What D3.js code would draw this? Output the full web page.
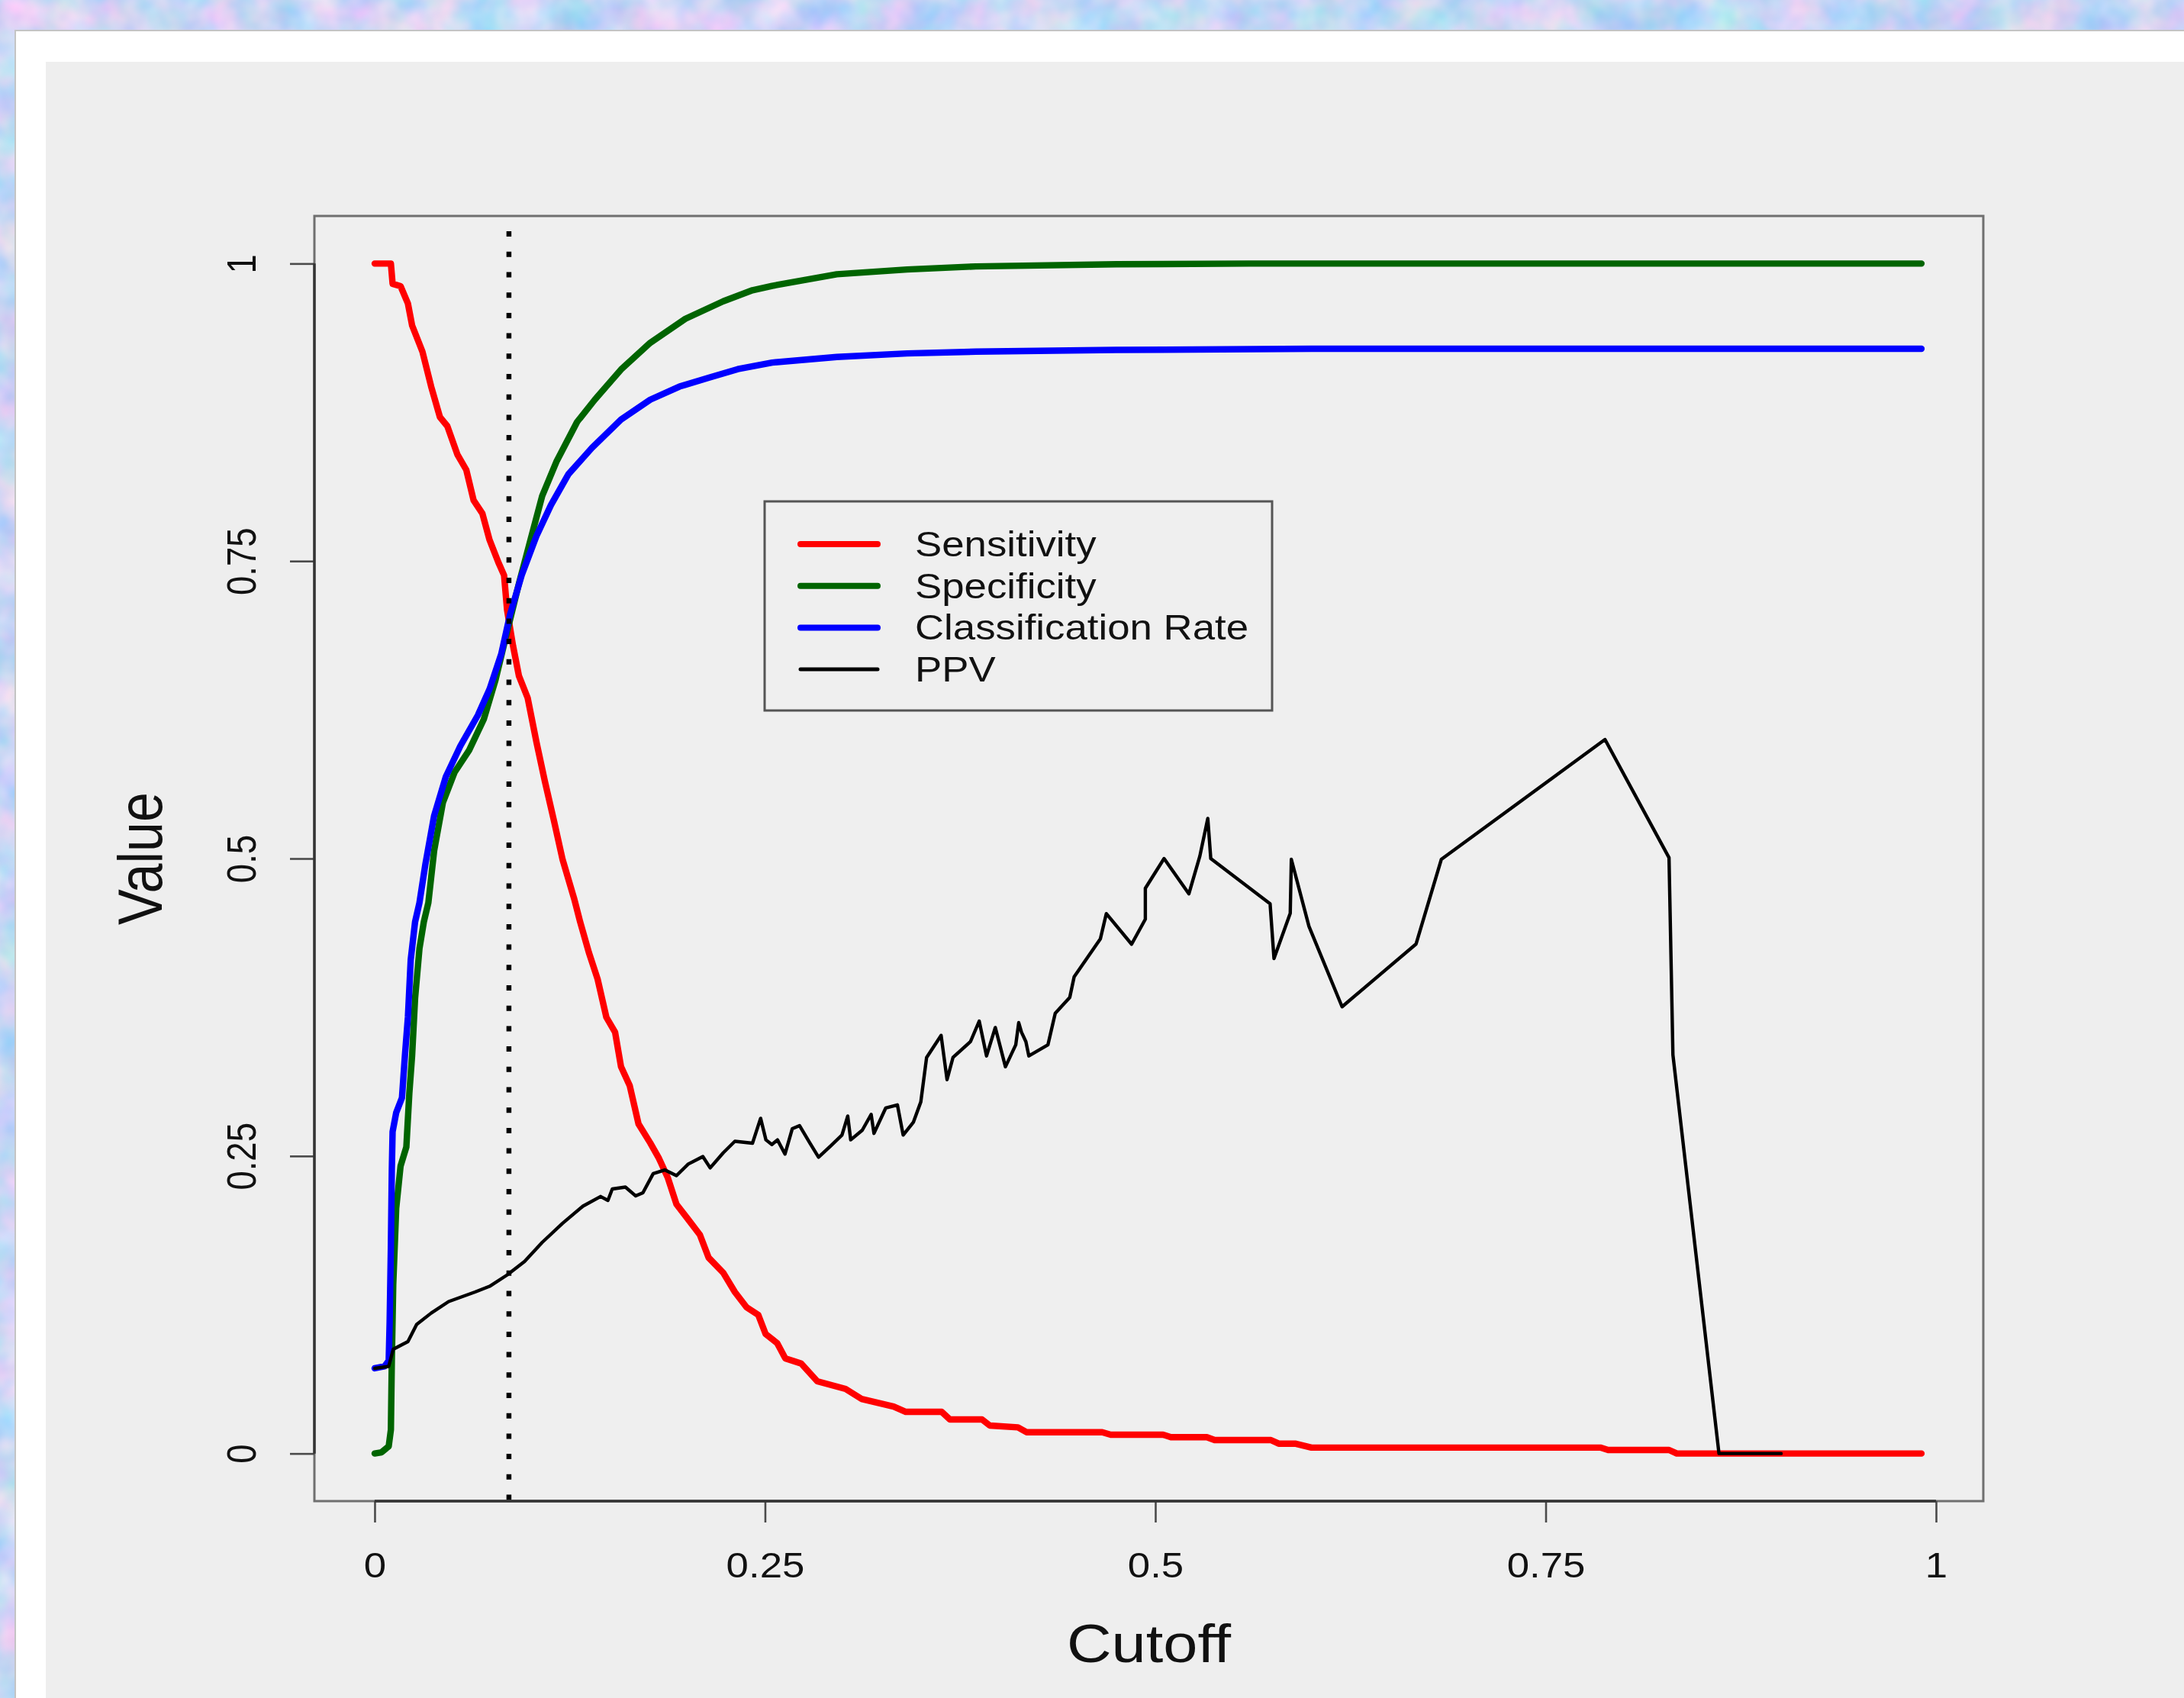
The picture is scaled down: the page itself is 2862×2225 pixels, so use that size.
<!DOCTYPE html>
<html>
<head>
<meta charset="utf-8">
<title>Cutoff vs Value</title>
<script src="https://cdnjs.cloudflare.com/ajax/libs/d3/7.8.5/d3.min.js"></script>
<style>
  html, body { margin: 0; padding: 0; background: #c9d6f3; }
  svg { display: block; }
</style>
</head>
<body>
<script>
// Values, as [cutoff, value]
const sensitivity = [
  [0, 1], [0.0104, 1], [0.0115, 0.983], [0.0166, 0.981], [0.0213, 0.9665], [0.024, 0.948],
  [0.0306, 0.926], [0.0362, 0.8966], [0.0418, 0.871], [0.0465, 0.8635], [0.053, 0.8395],
  [0.0587, 0.8266], [0.0634, 0.801], [0.069, 0.79], [0.0736, 0.7677], [0.0792, 0.749],
  [0.0829, 0.738], [0.0848, 0.709], [0.0886, 0.679], [0.0924, 0.6535], [0.098, 0.635],
  [0.1036, 0.598], [0.109, 0.565], [0.1148, 0.532], [0.1204, 0.499], [0.1279, 0.4657],
  [0.1316, 0.4468], [0.1372, 0.421], [0.1428, 0.3987], [0.1484, 0.3666], [0.154, 0.354],
  [0.1578, 0.325], [0.1634, 0.309], [0.169, 0.277], [0.1765, 0.261], [0.1821, 0.248],
  [0.1877, 0.232], [0.1933, 0.2095], [0.2008, 0.1967], [0.2083, 0.1838], [0.2139, 0.1646],
  [0.2233, 0.1518], [0.2307, 0.1357], [0.2382, 0.1229], [0.2457, 0.1165], [0.2504, 0.1005],
  [0.2578, 0.0928], [0.263, 0.08], [0.2732, 0.0756], [0.2835, 0.0607], [0.3016, 0.0543],
  [0.3118, 0.0459], [0.3324, 0.0395], [0.3402, 0.035], [0.3632, 0.035], [0.3685, 0.0286],
  [0.389, 0.0286], [0.394, 0.0235], [0.412, 0.022], [0.4175, 0.0179], [0.466, 0.0179],
  [0.4714, 0.0158], [0.505, 0.0158], [0.51, 0.0137], [0.533, 0.0137], [0.538, 0.0113],
  [0.574, 0.0113], [0.579, 0.0083], [0.5895, 0.0083], [0.6, 0.005], [0.785, 0.005],
  [0.79, 0.003], [0.829, 0.003], [0.834, 0], [0.9907, 0]
];

const specificity = [
  [0, 0], [0.0044, 0.001], [0.009, 0.006], [0.0104, 0.02], [0.011, 0.078], [0.0119, 0.142],
  [0.0138, 0.206], [0.0166, 0.2416], [0.0203, 0.2576], [0.0222, 0.3025], [0.024, 0.3346],
  [0.0259, 0.3827], [0.0287, 0.4244], [0.0315, 0.4468], [0.0344, 0.4629], [0.0381, 0.5065],
  [0.0437, 0.547], [0.0512, 0.5725], [0.0605, 0.591], [0.0699, 0.617], [0.0774, 0.65],
  [0.0848, 0.6905], [0.0924, 0.731], [0.0998, 0.7677], [0.1073, 0.8047], [0.1166, 0.834],
  [0.1297, 0.867], [0.141, 0.8856], [0.1578, 0.911], [0.1765, 0.9334], [0.199, 0.9536],
  [0.2233, 0.9683], [0.242, 0.9776], [0.2546, 0.9813], [0.296, 0.991], [0.341, 0.995],
  [0.385, 0.9976], [0.475, 0.9994], [0.56, 1], [0.9907, 1]
];

const classRate = [
  [0, 0.0716], [0.0063, 0.0732], [0.009, 0.078], [0.0096, 0.11], [0.0104, 0.174], [0.011, 0.2383],
  [0.0115, 0.2704], [0.0138, 0.2864], [0.0175, 0.299], [0.0194, 0.3346], [0.0213, 0.3666],
  [0.0231, 0.4148], [0.0259, 0.4468], [0.0287, 0.4629], [0.0325, 0.4952], [0.0381, 0.536],
  [0.0456, 0.5688], [0.0549, 0.5946], [0.0661, 0.6204], [0.0736, 0.6424], [0.0811, 0.672],
  [0.0867, 0.705], [0.0942, 0.7382], [0.1036, 0.771], [0.1129, 0.797], [0.1241, 0.823],
  [0.1391, 0.845], [0.1578, 0.8689], [0.1765, 0.8856], [0.1952, 0.8966], [0.2139, 0.904],
  [0.2326, 0.9113], [0.2546, 0.9168], [0.296, 0.9215], [0.341, 0.9245], [0.385, 0.926],
  [0.475, 0.9274], [0.6, 0.9284], [0.9907, 0.9284]
];

const ppv = [
  [0, 0.0716], [0.009, 0.0732], [0.0119, 0.0876], [0.0213, 0.094], [0.0269, 0.1085], [0.0362, 0.118],
  [0.0474, 0.1277], [0.0643, 0.1357], [0.0736, 0.1405], [0.0848, 0.15], [0.096, 0.1614],
  [0.1073, 0.1774], [0.1204, 0.1935], [0.1334, 0.2079], [0.1447, 0.216], [0.1494, 0.2127],
  [0.1522, 0.2223], [0.1606, 0.2239], [0.1672, 0.2165], [0.1718, 0.2191], [0.1784, 0.2352],
  [0.1858, 0.2383], [0.1933, 0.2335], [0.2008, 0.2432], [0.2102, 0.2496], [0.2149, 0.24],
  [0.2233, 0.2528], [0.2307, 0.2624], [0.242, 0.2608], [0.2472, 0.2817], [0.2506, 0.2636],
  [0.2544, 0.2597], [0.258, 0.2636], [0.2628, 0.2516], [0.2675, 0.273], [0.2721, 0.2756],
  [0.2787, 0.261], [0.2843, 0.249], [0.2918, 0.2582], [0.2993, 0.2676], [0.303, 0.2836],
  [0.3049, 0.2636], [0.3123, 0.2717], [0.318, 0.285], [0.3198, 0.269], [0.3273, 0.2903],
  [0.3348, 0.293], [0.3385, 0.2676], [0.345, 0.2783], [0.3498, 0.2955], [0.3535, 0.3328],
  [0.3628, 0.3514], [0.3666, 0.3142], [0.3704, 0.3328], [0.3816, 0.3461], [0.3872, 0.3634],
  [0.3919, 0.3341], [0.3975, 0.358], [0.404, 0.325], [0.4106, 0.3434], [0.4125, 0.3621],
  [0.4143, 0.354], [0.4171, 0.3461], [0.419, 0.3341], [0.4312, 0.3434], [0.4359, 0.37],
  [0.4452, 0.3833], [0.448, 0.4006], [0.4648, 0.4325], [0.4686, 0.4537], [0.4848, 0.428],
  [0.4936, 0.449], [0.4936, 0.475], [0.5056, 0.5], [0.5215, 0.4704], [0.5285, 0.502],
  [0.5336, 0.5337], [0.5355, 0.5], [0.5735, 0.462], [0.576, 0.416], [0.5864, 0.454],
  [0.5871, 0.4994], [0.5984, 0.443], [0.6196, 0.3754], [0.667, 0.4282], [0.6832, 0.4994],
  [0.788, 0.6], [0.829, 0.5007], [0.8315, 0.335], [0.861, 0], [0.9008, 0]
];

const seriesNames = ['Sensitivity', 'Specificity', 'Classification Rate', 'PPV'];
const seriesColors = ['#ff0000', '#006400', '#0000ff', '#000000'];
const tickValues = [0, 0.25, 0.5, 0.75, 1];
const tickLabels = ['0', '0.25', '0.5', '0.75', '1'];
const xLimits = [0.001, 0.9907];
const yLimits = [0, 1];
const bestCutoff = 0.086;

(function() {

  const W = 2862, H = 2225;
  const plot = { left: 412, right: 2599, top: 283, bottom: 1967 };
  const stretch = 1.16;   // the source picture is a little wider than it is tall
  const font = '"Liberation Sans", Arial, Helvetica, sans-serif';

  const svg = d3.select('body').append('svg')
    .attr('width', W)
    .attr('height', H);

  // Mottled blue page behind the figure
  const filter = svg.append('defs').append('filter')
    .attr('id', 'paper')
    .attr('x', 0).attr('y', 0).attr('width', '100%').attr('height', '100%')
    .attr('color-interpolation-filters', 'sRGB');
  filter.append('feTurbulence')
    .attr('type', 'fractalNoise')
    .attr('baseFrequency', 0.018)
    .attr('numOctaves', 3)
    .attr('seed', 5);
  filter.append('feColorMatrix')
    .attr('type', 'matrix')
    .attr('values', '0.5 0 0 0 0.53  0 0.2 0 0 0.74  0 0 0.1 0 0.91  0 0 0 0 1');

  svg.append('rect').attr('width', W).attr('height', H).attr('filter', 'url(#paper)');

  // White sheet, then the grey figure area
  svg.append('rect')
    .attr('x', 20).attr('y', 40).attr('width', W).attr('height', H)
    .attr('fill', '#ffffff').attr('stroke', '#c4c4c4').attr('stroke-width', 2);
  svg.append('rect')
    .attr('x', 60).attr('y', 81).attr('width', W).attr('height', H)
    .attr('fill', '#eeeeee');

  // R style scales: data range padded by 4% each side
  const pad = (lim) => [lim[0] - 0.04 * (lim[1] - lim[0]), lim[1] + 0.04 * (lim[1] - lim[0])];
  const x = d3.scaleLinear().domain(pad(xLimits)).range([plot.left, plot.right]);
  const y = d3.scaleLinear().domain(pad(yLimits)).range([plot.bottom, plot.top]);

  svg.append('rect')
    .attr('x', plot.left).attr('y', plot.top)
    .attr('width', plot.right - plot.left).attr('height', plot.bottom - plot.top)
    .attr('fill', '#efefef');

  // Curves, in the order R drew them
  const line = d3.line().x(d => x(d[0])).y(d => y(d[1]));
  const series = [sensitivity, specificity, classRate, ppv];
  const widths = [8.4, 8.4, 8.4, 4.4];

  svg.append('g').selectAll('path')
    .data(series)
    .enter().append('path')
    .attr('d', line)
    .attr('fill', 'none')
    .attr('stroke', (d, i) => seriesColors[i])
    .attr('stroke-width', (d, i) => widths[i])
    .attr('stroke-linejoin', 'round')
    .attr('stroke-linecap', 'round');

  // Dotted line at the chosen cutoff
  svg.append('path')
    .attr('d', line([[bestCutoff, pad(yLimits)[0]], [bestCutoff, pad(yLimits)[1]]]))
    .attr('stroke', '#000')
    .attr('stroke-width', 6.5)
    .attr('stroke-dasharray', '7,19.7')
    .attr('stroke-dashoffset', -1.5);

  // Box around the plot
  svg.append('rect')
    .attr('x', plot.left).attr('y', plot.top)
    .attr('width', plot.right - plot.left).attr('height', plot.bottom - plot.top)
    .attr('fill', 'none').attr('stroke', '#6f6f6f').attr('stroke-width', 3);

  // x axis
  const gx = svg.append('g')
    .attr('transform', `translate(0,${plot.bottom})`)
    .call(d3.axisBottom(x).tickValues(tickValues).tickFormat((d, i) => tickLabels[i]).tickSize(28));
  gx.select('.domain').remove();
  gx.append('line')
    .attr('x1', x(tickValues[0])).attr('x2', x(tickValues[tickValues.length - 1]))
    .attr('stroke', '#333').attr('stroke-width', 3.4);
  gx.selectAll('.tick line').attr('stroke', '#4a4a4a').attr('stroke-width', 2.6);
  gx.selectAll('.tick text')
    .attr('y', 0).attr('dy', 0)
    .attr('transform', `translate(0,100) scale(${stretch},1)`)
    .attr('text-anchor', 'middle')
    .attr('fill', '#111')
    .style('font-family', font)
    .style('font-size', '45.5px');

  // y axis, labels turned like R does by default
  const gy = svg.append('g')
    .attr('transform', `translate(${plot.left},0)`)
    .call(d3.axisLeft(y).tickValues(tickValues).tickFormat((d, i) => tickLabels[i]).tickSize(32));
  gy.select('.domain').remove();
  gy.append('line')
    .attr('y1', y(tickValues[0])).attr('y2', y(tickValues[tickValues.length - 1]))
    .attr('stroke', '#333').attr('stroke-width', 3.4);
  gy.selectAll('.tick line').attr('stroke', '#4a4a4a').attr('stroke-width', 2.6);
  gy.selectAll('.tick text')
    .attr('x', 0).attr('dy', 0)
    .attr('transform', `translate(-77,0) scale(${stretch},1) rotate(-90)`)
    .attr('text-anchor', 'middle')
    .attr('fill', '#111')
    .style('font-family', font)
    .style('font-size', '45.5px');

  // Axis titles
  svg.append('text')
    .attr('transform', `translate(${(plot.left + plot.right) / 2},2178) scale(${stretch},1)`)
    .attr('text-anchor', 'middle')
    .attr('fill', '#111')
    .style('font-family', font)
    .style('font-size', '70px')
    .text('Cutoff');

  svg.append('text')
    .attr('transform', `translate(212,${(plot.top + plot.bottom) / 2}) scale(${stretch},1) rotate(-90)`)
    .attr('text-anchor', 'middle')
    .attr('fill', '#111')
    .style('font-family', font)
    .style('font-size', '70px')
    .text('Value');

  // Legend
  const legend = svg.append('g');
  legend.append('rect')
    .attr('x', 1002).attr('y', 657).attr('width', 665).attr('height', 274)
    .attr('fill', 'none').attr('stroke', '#555').attr('stroke-width', 3);

  const rows = legend.selectAll('g.row')
    .data(seriesNames)
    .enter().append('g')
    .attr('class', 'row')
    .attr('transform', (d, i) => `translate(0,${713 + i * 54.7})`);

  rows.append('line')
    .attr('x1', 1049).attr('x2', 1150)
    .attr('stroke', (d, i) => seriesColors[i])
    .attr('stroke-width', (d, i) => i < 3 ? 8 : 5)
    .attr('stroke-linecap', 'round');

  rows.append('text')
    .attr('transform', `translate(1199,16) scale(${stretch},1)`)
    .attr('fill', '#111')
    .style('font-family', font)
    .style('font-size', '45.5px')
    .text(d => d);

})();
</script>
</body>
</html>
